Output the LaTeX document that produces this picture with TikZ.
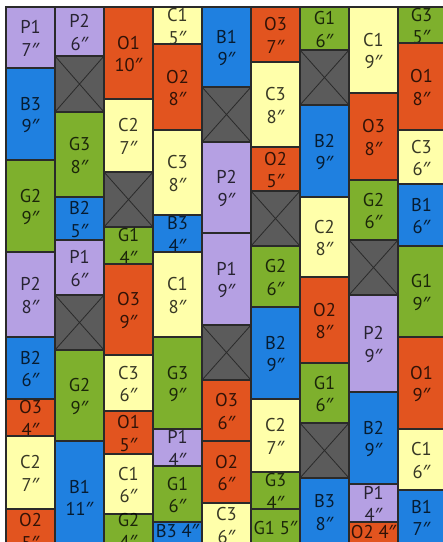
\documentclass[tikz,border=0pt]{standalone}
\usepackage{fontspec}
\setmainfont{PT Sans}
\newfontfamily\primefont{Noto Sans}
\usepackage{xcolor}
\usepackage{tikz}
\usetikzlibrary{positioning}
\definecolor{Ink}{HTML}{2A2A2A}
\definecolor{TileP}{HTML}{B5A0E3}
\definecolor{TileB}{HTML}{1F80E0}
\definecolor{TileG}{HTML}{7EB02D}
\definecolor{TileO}{HTML}{E2541F}
\definecolor{TileC}{HTML}{FFFFAA}
\definecolor{TileX}{HTML}{5B5B5B}
\newcommand{\dq}{{\primefont\char"2033}}
\tikzset{
  tile/.style={draw=Ink,line width=1.1pt},
  tilep/.style={tile,fill=TileP},
  tileb/.style={tile,fill=TileB},
  tileg/.style={tile,fill=TileG},
  tileo/.style={tile,fill=TileO},
  tilec/.style={tile,fill=TileC},
  blank/.style={tile,fill=TileX,path picture={
    \draw[Ink,line width=0.8pt] (path picture bounding box.north west) -- (path picture bounding box.south east)
      (path picture bounding box.north east) -- (path picture bounding box.south west);}},
  tag/.style={inner sep=0pt,align=center,text=black,text opacity=0.78,
    font=\fontsize{18.5}{22.5}\selectfont,yshift=-1pt}
}

\begin{document}
\begin{tikzpicture}[x=1pt,y=-1pt]
  \useasboundingbox (0,0) rectangle (443,542);
  \fill[white] (0,0) rectangle (443,542);
  \clip (0,0) rectangle (443,542);
  % column 1
  \foreach \ya/\yb/\kind/\txt in {7/68/tilep/{P1\\7\dq}, 68/160/tileb/{B3\\9\dq}, 160/252/tileg/{G2\\9\dq},
      252/337/tilep/{P2\\8\dq}, 337/399/tileb/{B2\\6\dq}, 399/436/tileo/{O3\\4\dq}, 436/509/tilec/{C2\\7\dq},
      509/552/tileo/{O2\\5\dq}}
    \draw[\kind] (6,\ya) rectangle (55,\yb) node[tag] (a-\ya) at (30.5,{(\ya+\yb)/2}) {\txt};
  % column 2
  \foreach \ya/\yb/\kind/\txt in {7/56/tilep/{P2\\6\dq}, 56/112/blank/{}, 112/197/tileg/{G3\\8\dq},
      197/240/tileb/{B2\\5\dq}, 240/295/tilep/{P1\\6\dq}, 295/350/blank/{}, 350/441/tileg/{G2\\9\dq},
      441/553/tileb/{B1\\11\dq}}
    \draw[\kind] (55,\ya) rectangle (104,\yb) node[tag] (b-\ya) at (79.5,{(\ya+\yb)/2}) {\txt};
  % column 3
  \foreach \ya/\yb/\kind/\txt in {7/99/tileo/{O1\\10\dq}, 99/172/tilec/{C2\\7\dq}, 172/227/blank/{},
      227/264/tileg/{G1\\4\dq}, 264/355/tileo/{O3\\9\dq}, 355/411/tilec/{C3\\6\dq}, 411/454/tileo/{O1\\5\dq},
      454/514/tilec/{C1\\6\dq}, 514/546/tileg/{G2\\4\dq}}
    \draw[\kind] (104,\ya) rectangle (153,\yb) node[tag] (c-\ya) at (128.5,{(\ya+\yb)/2}) {\txt};
  % column 4
  \foreach \ya/\yb/\kind/\txt in {7/44/tilec/{C1\\5\dq}, 44/130/tileo/{O2\\8\dq}, 130/215/tilec/{C3\\8\dq},
      215/252/tileb/{B3\\4\dq}, 252/337/tilec/{C1\\8\dq}, 337/429/tileg/{G3\\9\dq}, 429/466/tilep/{P1\\4\dq},
      466/522/tileg/{G1\\6\dq}}
    \draw[\kind] (153,\ya) rectangle (202,\yb) node[tag] (d-\ya) at (177.5,{(\ya+\yb)/2}) {\txt};
  \draw[tileb] (153,522) rectangle (202,548) node[tag] (d-522) at (177.5,530) {B3 4\dq};
  % column 5
  \foreach \ya/\yb/\kind/\txt in {7/87/tileb/{B1\\9\dq}, 87/142/blank/{}, 142/233/tilep/{P2\\9\dq},
      233/325/tilep/{P1\\9\dq}, 325/380/blank/{}, 380/441/tileo/{O3\\6\dq}, 441/503/tileo/{O2\\6\dq},
      503/546/tilec/{C3\\6\dq}}
    \draw[\kind] (202,\ya) rectangle (251,\yb) node[tag] (e-\ya) at (226.5,{(\ya+\yb)/2}) {\txt};
  % column 6
  \foreach \ya/\yb/\kind/\txt in {7/62/tileo/{O3\\7\dq}, 62/147/tilec/{C3\\8\dq}, 147/191/tileo/{O2\\5\dq},
      191/246/blank/{}, 246/307/tileg/{G2\\6\dq}, 307/399/tileb/{B2\\9\dq}, 399/472/tilec/{C2\\7\dq},
      472/509/tileg/{G3\\4\dq}, 509/545/tileg/{G1 5\dq}}
    \draw[\kind] (251,\ya) rectangle (300,\yb) node[tag] (f-\ya) at (275.5,{(\ya+\yb)/2}) {\txt};
  % column 7
  \foreach \ya/\yb/\kind/\txt in {7/50/tileg/{G1\\6\dq}, 50/105/blank/{}, 105/197/tileb/{B2\\9\dq},
      197/277/tilec/{C2\\8\dq}, 277/363/tileo/{O2\\8\dq}, 363/423/tileg/{G1\\6\dq}, 423/478/blank/{},
      478/545/tileb/{B3\\8\dq}}
    \draw[\kind] (300,\ya) rectangle (349,\yb) node[tag] (g-\ya) at (324.5,{(\ya+\yb)/2}) {\txt};
  % column 8
  \foreach \ya/\yb/\kind/\txt in {7/93/tilec/{C1\\9\dq}, 93/180/tileo/{O3\\8\dq}, 180/240/tileg/{G2\\6\dq},
      240/295/blank/{}, 295/392/tilep/{P2\\9\dq}, 392/484/tileb/{B2\\9\dq}, 484/522/tilep/{P1\\4\dq}}
    \draw[\kind] (349,\ya) rectangle (398,\yb) node[tag] (h-\ya) at (373.5,{(\ya+\yb)/2}) {\txt};
  \draw[tileo] (349,522) rectangle (398,548) node[tag] (h-522) at (373.5,531) {O2 4\dq};
  % column 9
  \foreach \ya/\yb/\kind/\txt in {7/43/tileg/{G3\\5\dq}, 43/130/tileo/{O1\\8\dq}, 130/184/tilec/{C3\\6\dq},
      184/246/tileb/{B1\\6\dq}, 246/337/tileg/{G1\\9\dq}, 337/429/tileo/{O1\\9\dq}, 429/490/tilec/{C1\\6\dq},
      490/544/tileb/{B1\\7\dq}}
    \draw[\kind] (398,\ya) rectangle (447,\yb) node[tag] (i-\ya) at (421.5,{(\ya+\yb)/2}) {\txt};
\end{tikzpicture}
\end{document}
